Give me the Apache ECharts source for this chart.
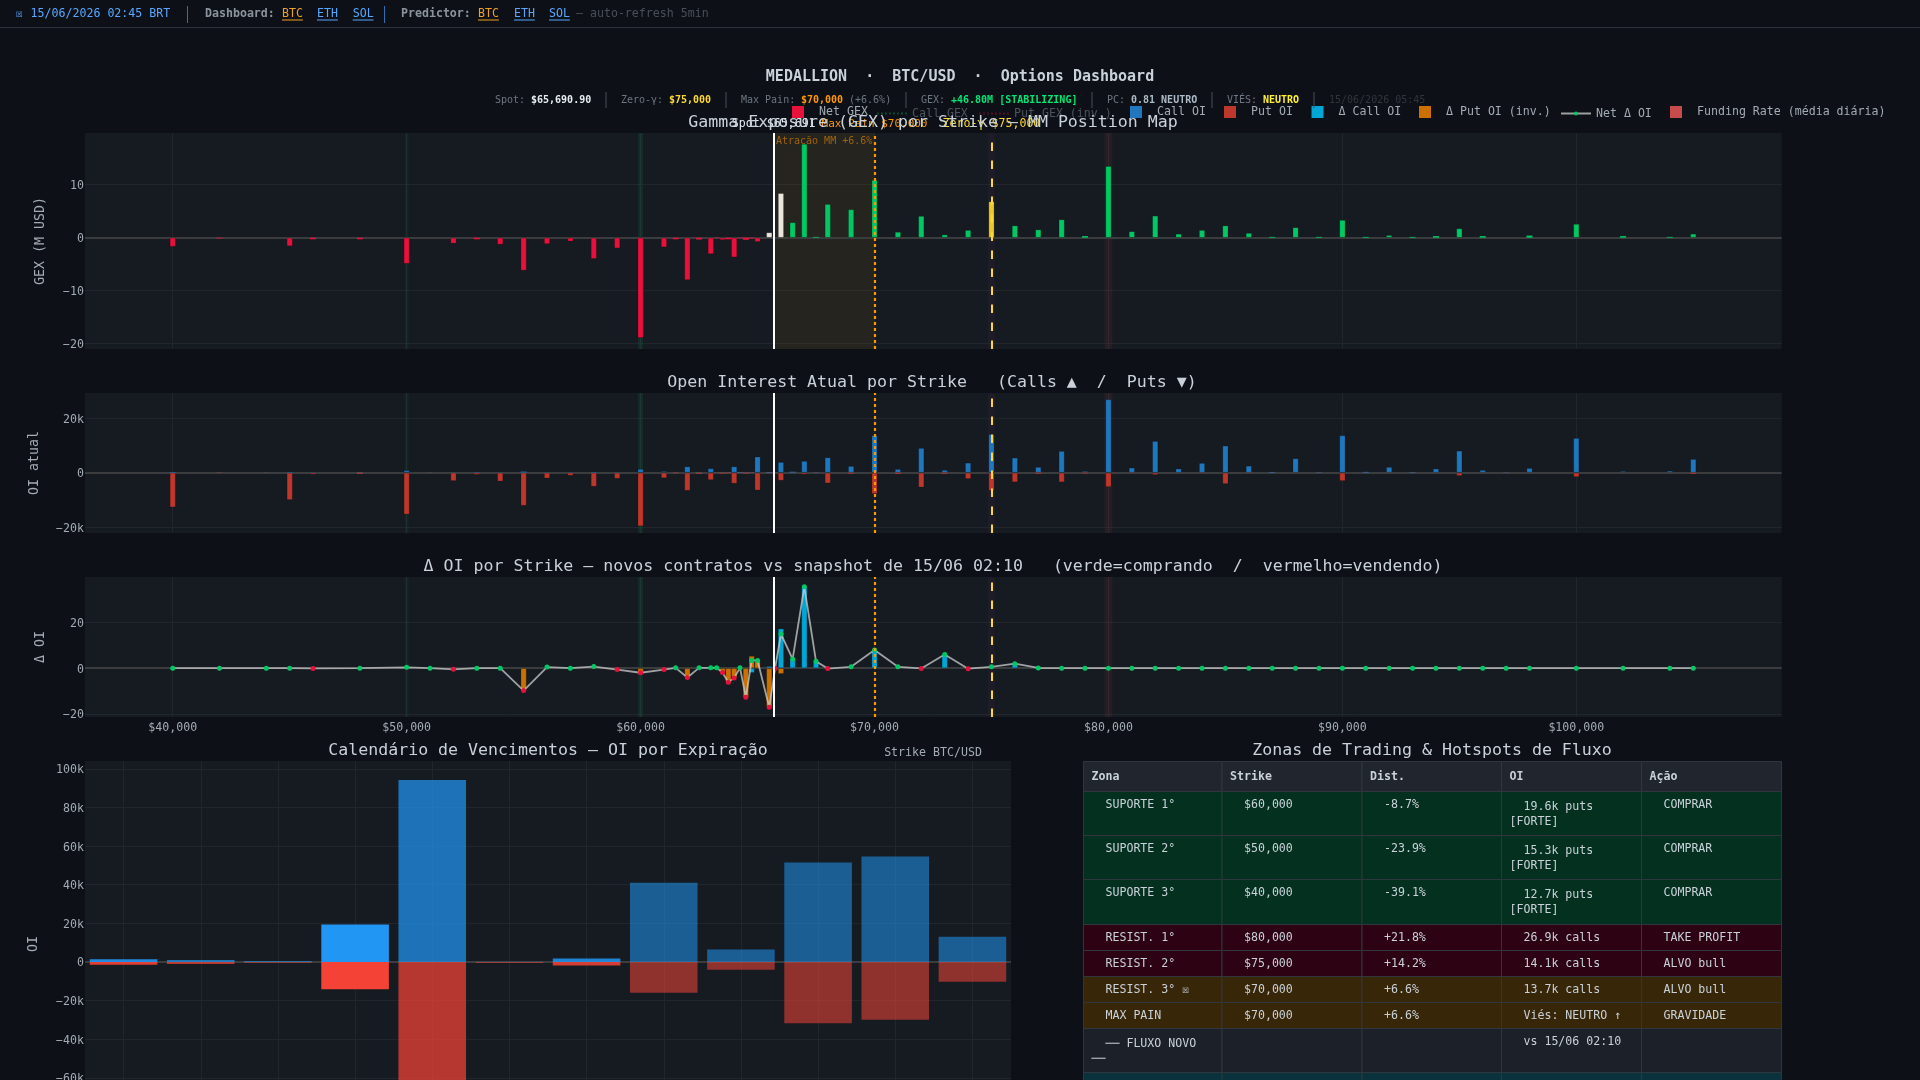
<!DOCTYPE html>
<html lang="pt-BR">
<head>
<meta charset="utf-8">
<title>MEDALLION · BTC/USD · Options Dashboard</title>
<script src="https://cdn.jsdelivr.net/npm/echarts@6/dist/echarts.min.js"></script>
<style>
  html, body { margin: 0; padding: 0; background: #0d1117; overflow: hidden; }
  #chart { width: 1920px; height: 1080px; }
</style>
</head>
<body>
<div id="chart"></div>
<script>
// ---- Strike ladder -------------------------------------------------------
const strikes = [
  40000,42000,44000,45000,46000,48000,50000,51000,52000,53000,
  54000,55000,56000,57000,58000,59000,60000,61000,61500,62000,
  62500,63000,63250,63500,63750,64000,64250,64500,64750,65000,
  65500,65750,66000,66500,67000,67500,68000,69000,70000,71000,
  72000,73000,74000,75000,76000,77000,78000,79000,80000,81000,
  82000,83000,84000,85000,86000,87000,88000,89000,90000,91000,
  92000,93000,94000,95000,96000,97000,98000,100000,102000,104000,
  105000
];
// Net gamma exposure, M USD
const netGex = [
  -1.7,-0.15,0,-1.6,-0.3,-0.3,-4.9,0,-1.1,-0.3,
  -1.3,-6.2,-1.2,-0.7,-4,-2,-18.9,-1.8,-0.3,-8,
  -0.35,-3.1,-0.1,-0.45,-0.3,-3.7,-0.1,-0.4,-0.15,-0.8,
  1,0,8.4,2.9,17.7,0.15,6.35,5.35,10.9,1.1,
  4.1,0.6,1.45,6.85,2.3,1.55,3.45,0.3,13.5,1.2,
  4.15,0.75,1.45,2.3,0.9,0.15,1.95,0.15,3.35,0.15,
  0.5,0.15,0.3,1.75,0.3,0,0.4,2.6,0.3,0.15,
  0.75
];
// Open interest per strike, thousands of contracts
const callOi = [
  0.25,0.05,0.05,0.2,0.1,0.15,0.9,0.05,0.1,0.15,
  0.1,0.4,0.1,0.1,0.2,0.1,1.35,0.6,0.05,2.3,
  0.1,1.6,0.05,0.1,0.1,2.3,0.25,0.1,0.1,5.9,
  0.25,0.05,3.9,0.35,4.3,0.1,5.6,2.45,13.7,1.35,
  9.05,1,3.65,14.1,5.5,2.1,7.95,0.6,26.9,1.85,
  11.6,1.5,3.55,9.9,2.55,0.25,5.25,0.15,13.7,0.3,
  2.1,0.2,1.5,8.05,1,0.1,1.7,12.7,0.6,0.7,
  5
];
const putOi = [
  12.7,0.1,0.05,10,0.7,0.4,15.3,0.05,3.05,0.75,
  3.2,12.1,2.1,1.1,5.1,2.2,19.6,2,0.2,6.6,
  0.35,2.7,0.1,0.3,0.2,4,0.1,0.3,0.1,6.5,
  0.1,0.05,2.9,0.05,0.7,0.05,3.9,0.35,7.8,0.4,
  5.4,0.35,2.3,6.6,3.5,0.35,3.5,0.25,5.25,0.1,
  0.85,0.05,0.1,4.15,0.1,0.05,0.05,0.05,3.05,0.05,
  0.05,0.05,0.05,1.2,0.05,0.05,0.05,1.6,0.05,0.05,
  0.4
];
// Change in open interest since the previous snapshot
const deltaCall = [
  0,0,0,0,0,0,0,0,0,0,
  0,0,0,0,0,0,0,0,0,0,
  0,0,0,0,0,0,0,0,-2.05,0,
  0.9,0,17.4,4,35.7,3,0,0,8,0,
  0,6,0,0,2,0,0,0,0,0,
  0,0,0,0,0,0,0,0,0,0,
  0,0,0,0,0,0,0,0,0,0,
  0
];
const deltaPutInv = [
  0,0,0,0,0,0,0,0,0,0,
  0,-9.8,0,0,0,-0.6,-2,-0.6,0,-4.1,
  0,0,0,-1.9,-6.15,-4.25,0,-12.75,5.4,3.4,
  -17.1,-0.1,-2.5,0,0,0,-0.15,0,0,0,
  0,0,0,0,0,0,0,0,0,0,
  0,0,0,0,0,0,0,0,0,0,
  0,0,0,0,0,0,0,0,0,0,
  0
];
const deltaNet = [
  0,0,0,0,-0.1,0,0.4,0,-0.5,0,
  0,-9.8,0.5,0,0.7,-0.6,-2,-0.6,0.15,-4.1,
  0.15,0.15,0.15,-1.9,-6.15,-4.25,0.15,-12.75,3.4,3.4,
  -17.1,-0.1,15,4,35.7,3,-0.15,0.6,8,0.6,
  -0.1,6,-0.2,0.6,2,0.1,0,0,0,0,
  0,0,0,0,0,0,0,0,0,0,
  0,0,0,0,0,0,0,0,0,0,
  0
];
// Key levels
const spotPrice = 65690.9;
const maxPain = 70000;
const zeroGamma = 75000;
const supportZones = [50000, 60000];
const resistanceZones = [75000, 80000];

// Open interest per expiry, thousands of contracts
const expiries = ['16JUN','17JUN','18JUN','19JUN','26JUN','03JUL','10JUL','31JUL','14AUG','28AUG','25SEP','30OCT'];
const expiryCalls = [1.4,1,0.5,19.4,94.3,0.15,1.8,41,6.4,51.5,54.6,13.1];
const expiryPuts = [-1.5,-1,-0.4,-14.2,-68,-0.5,-1.9,-15.9,-4,-31.8,-30,-10.2];
const expiryFade = [0.9,0.7,0.6,1,0.72,0.5,0.85,0.55,0.55,0.55,0.55,0.55];

// Axis ticks
const strikeTicks = [40000,50000,60000,70000,80000,90000,100000];
const gexTicks = [-20,-10,0,10];
const oiTicks = [-20,0,20];
const deltaTicks = [-20,0,20];
const calendarTicks = [-80,-60,-40,-20,0,20,40,60,80,100];

// Zone table
const BOX_GLYPH = '\u2612';
const tableHead = ['Zona','Strike','Dist.','OI','Ação'];
const tableRows = [
  ['  SUPORTE 1°','  $60,000','  -8.7%','  19.6k puts\n[FORTE]','  COMPRAR'],
  ['  SUPORTE 2°','  $50,000','  -23.9%','  15.3k puts\n[FORTE]','  COMPRAR'],
  ['  SUPORTE 3°','  $40,000','  -39.1%','  12.7k puts\n[FORTE]','  COMPRAR'],
  ['  RESIST. 1°','  $80,000','  +21.8%','  26.9k calls','  TAKE PROFIT'],
  ['  RESIST. 2°','  $75,000','  +14.2%','  14.1k calls','  ALVO bull'],
  ['  RESIST. 3° ' + BOX_GLYPH,'  $70,000','  +6.6%','  13.7k calls','  ALVO bull'],
  ['  MAX PAIN','  $70,000','  +6.6%','  Viés: NEUTRO ↑','  GRAVIDADE'],
  ['  ── FLUXO NOVO\n──','','','  vs 15/06 02:10','']
];

// ---- Look and layout -----------------------------------------------------
const FONT = '"DejaVu Sans Mono", monospace';
const C = {
  page:'#0d1117', plot:'#161b22', grid:'#21262d', zero:'#3a3c3e', text:'#c9d1d9', tick:'#a3abb4', dim:'#6e7681',
  green:'#00c864', red:'#e8113c', spot:'#ffffff', pain:'#ff9800', gamma:'#fdd835',
  call:'#1f77bd', put:'#bd372c', dCall:'#00a6d6', dPut:'#cc7000'
};
const PLOT_LEFT = 85, PLOT_WIDTH = 1696.6;
const gridBoxes = [
  { left:PLOT_LEFT, top:133, width:PLOT_WIDTH, height:216 },
  { left:PLOT_LEFT, top:393, width:PLOT_WIDTH, height:140 },
  { left:PLOT_LEFT, top:577, width:PLOT_WIDTH, height:140 },
  { left:PLOT_LEFT, top:761, width:926, height:366 }
];

const fmtK = v => (v < 0 ? '−' + (-v) : v) + (v === 0 ? '' : 'k');
const fmtN = v => (v < 0 ? '−' + (-v) : '' + v);

function xAxisFor(gridIndex, showLabels) {
  return {
    type:'value', gridIndex, min:36250, max:108776, scale:true,
    axisLine:{show:false},
    axisTick:{show:false, customValues:strikeTicks},
    splitLine:{show:true, lineStyle:{color:C.grid, width:1}},
    axisLabel:{
      show:showLabels, customValues:strikeTicks, color:C.tick, fontFamily:FONT, fontSize:11.6, margin:4,
      padding:[1,0,0,0],
      formatter:v => '$' + v.toLocaleString('en-US')
    }
  };
}
function yAxisFor(gridIndex, name, min, max, ticks, fmt, nameGap) {
  return {
    type:'value', gridIndex, min, max, name, nameLocation:'middle', nameRotate:90, nameGap,
    nameTextStyle:{color:C.tick, fontFamily:FONT, fontSize:13.3},
    axisLine:{show:false},
    axisTick:{show:false, customValues:ticks},
    splitLine:{show:true, lineStyle:{color:C.grid, width:1}},
    axisLabel:{
      customValues:ticks, color:C.tick, fontFamily:FONT, fontSize:11.6, margin:1,
      formatter:v => '{t|' + fmt(v) + '}',
      rich:{t:{color:C.tick, fontFamily:FONT, fontSize:11.6, padding:[3,0,0,0]}}
    }
  };
}

// Zero line, drawn underneath the marks of a panel
function zeroSeries(i) {
  return {
    type:'line', name:'zero' + i, xAxisIndex:i, yAxisIndex:i, data:[], silent:true,
    markLine:{ silent:true, symbol:'none', animation:false, z:1, label:{show:false},
      lineStyle:{color:C.zero, width:2, type:'solid'}, data:[{yAxis:0}] }
  };
}
// Highlighted strike bands, and the spot to max-pain attraction box on the GEX panel
function zoneAreas(withBox) {
  const band = (v, half, color) => [{xAxis:v - half, itemStyle:{color}}, {xAxis:v + half}];
  const data = [
    band(supportZones[0], 85, 'rgba(0,200,100,0.05)'),
    band(supportZones[1], 107, 'rgba(0,200,100,0.10)'),
    band(resistanceZones[0], 150, 'rgba(200,60,130,0.05)'),
    band(resistanceZones[1], 165, 'rgba(255,60,80,0.08)')
  ];
  if (withBox) data.push([
    {xAxis:spotPrice, itemStyle:{color:'rgba(255,152,0,0.07)'},
      label:{show:true, position:'insideTop', distance:3, formatter:'Atração MM +6.6%', color:'rgba(255,152,0,0.55)', fontFamily:FONT, fontSize:10}},
    {xAxis:maxPain}
  ]);
  return { silent:true, animation:false, z:1, label:{show:false}, data };
}
// Spot, max pain and zero-gamma verticals; the first panel also names them
function levelLines(named) {
  const lab = (text, color, size) => named
    ? {show:true, position:'end', distance:3, formatter:text, color, fontFamily:FONT, fontSize:size}
    : {show:false};
  return {
    silent:true, symbol:'none', animation:false, z:6,
    data:[
      {xAxis:spotPrice, lineStyle:{color:C.spot, width:2, type:'solid'}, label:lab('Spot $65,691', '#e6edf3', 11.6)},
      {xAxis:maxPain, lineStyle:{color:C.pain, width:2.2, type:[3,3]}, label:lab('Max Pain $70,000', C.pain, 11)},
      {xAxis:zeroGamma, lineStyle:{color:C.gamma, width:2, type:[8.5,9.5]}, label:lab('Zero-γ $75,000', C.gamma, 11.6)}
    ]
  };
}
function gexColor(strike, value) {
  if (strike === zeroGamma) return '#e8c92a';
  if (strike === 65500 || strike === 66000) return '#ebe6dd';
  return value < 0 ? C.red : C.green;
}
// Very short bars skip the outline, which would otherwise smear along the zero line
function barPoint(strike, value, color) {
  return {
    value:[strike, value],
    itemStyle:{color, borderColor:'rgba(0,0,0,0.22)', borderWidth:Math.abs(value) > 0.4 ? 0.8 : 0}
  };
}
function barSeries(name, i, arr, color) {
  return {
    type:'bar', name, xAxisIndex:i, yAxisIndex:i, barWidth:6, barGap:'-100%', silent:true,
    data:strikes.map((s, k) => barPoint(s, arr[k], color))
  };
}

const series = [
  zeroSeries(0), zeroSeries(1), zeroSeries(2), zeroSeries(3),
  Object.assign(barSeries('Net GEX', 0, netGex, C.red), {
    data:strikes.map((s, i) => barPoint(s, netGex[i], gexColor(s, netGex[i]))),
    markArea:zoneAreas(true), markLine:levelLines(true)
  }),
  {type:'line', name:'Call GEX', xAxisIndex:0, yAxisIndex:0, data:[], symbol:'none', lineStyle:{color:'rgba(0,200,100,0.3)', type:[2,2], width:1.5}},
  {type:'line', name:'Put GEX (inv.)', xAxisIndex:0, yAxisIndex:0, data:[], symbol:'none', lineStyle:{color:'rgba(232,17,60,0.3)', type:[2,2], width:1.5}},
  Object.assign(barSeries('Call OI', 1, callOi, C.call), {markArea:zoneAreas(false), markLine:levelLines(false)}),
  barSeries('Put OI', 1, putOi.map(v => -v), C.put),
  Object.assign(barSeries('Δ Call OI', 2, deltaCall, C.dCall), {markArea:zoneAreas(false), markLine:levelLines(false)}),
  barSeries('Δ Put OI (inv.)', 2, deltaPutInv, C.dPut),
  {
    type:'line', name:'Net Δ OI', xAxisIndex:2, yAxisIndex:2, z:4, silent:true,
    data:strikes.map((s, i) => ({value:[s, deltaNet[i]], itemStyle:{color:deltaNet[i] < 0 ? C.red : C.green}})),
    symbol:'circle', symbolSize:5, lineStyle:{color:'rgba(205,205,205,0.75)', width:1.8},
    itemStyle:{color:C.green}
  },
  {type:'bar', name:'Funding Rate (média diária)', xAxisIndex:3, yAxisIndex:3, data:[], itemStyle:{color:'#c94a4a'}},
  {
    type:'bar', name:'Vencimentos Calls', xAxisIndex:3, yAxisIndex:3, barWidth:67.6, barGap:'-100%', silent:true,
    data:expiryCalls.map((v, i) => ({value:v, itemStyle:{color:'#2196f3', opacity:expiryFade[i]}}))
  },
  {
    type:'bar', name:'Vencimentos Puts', xAxisIndex:3, yAxisIndex:3, barWidth:67.6, barGap:'-100%', silent:true,
    data:expiryPuts.map((v, i) => ({value:v, itemStyle:{color:'#f44336', opacity:expiryFade[i]}}))
  }
];

// Each legend entry is placed on its own along the header row
const legendItems = [
  ['Net GEX', 792, 'rect', C.tick, C.red],
  ['Call GEX', 876, 'dim', '#4d545c'],
  ['Put GEX (inv.)', 978, 'dim', '#4d545c'],
  ['Call OI', 1130, 'rect', C.tick, C.call],
  ['Put OI', 1224, 'rect', C.tick, C.put],
  ['Δ Call OI', 1311.5, 'rect', C.tick, C.dCall],
  ['Δ Put OI (inv.)', 1419, 'rect', C.tick, C.dPut],
  ['Net Δ OI', 1560, 'line', C.tick],
  ['Funding Rate (média diária)', 1670, 'rect', C.tick, '#c94a4a']
];
const legends = legendItems.map(([name, x, kind, textColor, swatch]) => {
  const isRect = kind === 'rect';
  let entry = {name};
  if (isRect) entry = {name, icon:'rect', itemStyle:{color:swatch}};
  if (kind === 'dim') entry = {name, itemStyle:{opacity:0}, lineStyle:{opacity:1}};
  return {
    left:x, top:isRect ? 106 : 107.5, orient:'horizontal', padding:0, selectedMode:false,
    itemWidth:isRect ? 12 : 30, itemHeight:isRect ? 12 : 5,
    data:[entry],
    textStyle:{color:textColor, fontFamily:FONT, fontSize:11.6, padding:[isRect ? 6 : 0,0,0,isRect ? 10 : 0]}
  };
});

// ---- Page furniture: header, titles and table ----------------------------
const gfx = [];
function txt(x, y, text, fill, size, opt) {
  opt = opt || {};
  gfx.push({ type:'text', x, y, z:50, silent:true, style:{
    text, fill, font:(opt.bold ? 'bold ' : '') + size + 'px ' + FONT,
    textAlign:opt.align || 'left', textVerticalAlign:'middle'
  }});
}
function hline(x1, y1, x2, y2, stroke, w) {
  gfx.push({ type:'line', z:50, silent:true, shape:{x1, y1, x2, y2}, style:{stroke, lineWidth:w || 1} });
}
function link(x, text, color) {
  txt(x, 14, text, color, 11.6);
  hline(x, 20, x + text.length * 6.96, 20, color, 1);
}

// Navigation strip
hline(0, 27.5, 1920, 27.5, '#2d333b');
txt(16, 14, BOX_GLYPH, '#58a6ff', 11.6);
txt(30.6, 14, '15/06/2026 02:45 BRT', '#58a6ff', 11.6);
hline(187.5, 6, 187.5, 23, '#2f6fb5');
txt(205, 14, 'Dashboard:', '#8b949e', 11.6, {bold:true});
link(282, 'BTC', '#f0a020'); link(317, 'ETH', '#58a6ff'); link(352.7, 'SOL', '#58a6ff');
hline(384.5, 6, 384.5, 23, '#2f6fb5');
txt(401, 14, 'Predictor:', '#8b949e', 11.6, {bold:true});
link(478, 'BTC', '#f0a020'); link(514, 'ETH', '#58a6ff'); link(549, 'SOL', '#58a6ff');
txt(576, 14, '— auto-refresh 5min', '#484f58', 11.6);

// Dashboard heading and stat line
txt(960, 77, 'MEDALLION  ·  BTC/USD  ·  Options Dashboard', C.text, 15, {bold:true, align:'center'});
const statGroups = [
  [['Spot: ','#6e7681'],['$65,690.90','#e6edf3',1]],
  [['Zero-γ: ','#6e7681'],['$75,000','#fdd835',1]],
  [['Max Pain: ','#6e7681'],['$70,000','#ff9800',1],[' (+6.6%)','#6e7681']],
  [['GEX: ','#6e7681'],['+46.80M [STABILIZING]','#00e676',1]],
  [['PC: ','#6e7681'],['0.81 NEUTRO','#adbac7',1]],
  [['VIÉS: ','#6e7681'],['NEUTRO','#ffee33',1]],
  [['15/06/2026 05:45','#30363d']]
];
let statX = 495;
statGroups.forEach((group, g) => {
  group.forEach(([text, color, bold]) => {
    txt(statX, 100, text, color, 10, {bold:!!bold});
    statX += text.length * 6;
  });
  if (g < statGroups.length - 1) { statX += 15; hline(statX, 92, statX, 108, '#484f58'); statX += 15; }
});

// Panel titles
txt(933, 123, 'Gamma Exposure (GEX) por Strike — MM Position Map', C.text, 16.6, {align:'center'});
txt(932, 382.7, 'Open Interest Atual por Strike   (Calls ▲  /  Puts ▼)', C.text, 16.6, {align:'center'});
txt(933, 566.5, 'Δ OI por Strike — novos contratos vs snapshot de 15/06 02:10   (verde=comprando  /  vermelho=vendendo)', C.text, 16.6, {align:'center'});
txt(548, 751, 'Calendário de Vencimentos — OI por Expiração', C.text, 16.6, {align:'center'});
txt(1432, 751, 'Zonas de Trading & Hotspots de Fluxo', C.text, 16.6, {align:'center'});
txt(933, 752.5, 'Strike BTC/USD', C.tick, 11.6, {align:'center'});

// Zone table, one rect per cell and one text per wrapped line
const colX = [1083.5, 1222, 1362, 1501.5, 1641.5, 1781.5];
const rowY = [761.5, 791.5, 835.5, 879.5, 924.5, 950.5, 976.5, 1002.5, 1028.5, 1072.5, 1116.5];
const rowFill = ['#21262e','#04311f','#04311f','#04311f','#2d0314','#2d0314','#382608','#382608','#1c2129','#0a323c'];
function cell(c, r, fill) {
  gfx.push({ type:'rect', z:49, silent:true,
    shape:{x:colX[c], y:rowY[r], width:colX[c + 1] - colX[c], height:rowY[r + 1] - rowY[r]},
    style:{fill, stroke:'#30363d', lineWidth:1} });
}
tableHead.forEach((h, c) => {
  cell(c, 0, rowFill[0]);
  txt(colX[c] + 8, 777, h, C.text, 11.6, {bold:true});
});
tableRows.forEach((row, r) => {
  row.forEach((value, c) => {
    cell(c, r + 1, rowFill[r + 1]);
    const lines = value.split('\n');
    const top = rowY[r + 1];
    lines.forEach((line, l) => {
      const y = lines.length > 1 ? top + 15.6 + l * 14.6 : top + 13;
      txt(colX[c] + 8, y, line, C.text, 11.6);
    });
  });
});
for (let c = 0; c < 5; c++) cell(c, 9, rowFill[9]);

const option = {
  backgroundColor:C.page,
  animation:false,
  textStyle:{fontFamily:FONT},
  grid:gridBoxes.map(g => Object.assign({backgroundColor:C.plot, show:true, borderWidth:0, outerBoundsMode:'none'}, g)),
  legend:legends,
  xAxis:[
    xAxisFor(0, false), xAxisFor(1, false), xAxisFor(2, true),
    {
      type:'category', gridIndex:3, data:expiries,
      axisLine:{show:false}, axisLabel:{show:false},
      axisTick:{show:false, alignWithLabel:true},
      splitLine:{show:true, alignWithLabel:true, lineStyle:{color:C.grid, width:1}}
    }
  ],
  yAxis:[
    yAxisFor(0, 'GEX (M USD)', -21, 19.75, gexTicks, fmtN, 38),
    yAxisFor(1, 'OI atual', -22.1, 29.2, oiTicks, fmtK, 44),
    yAxisFor(2, 'Δ OI', -21.4, 40, deltaTicks, fmtN, 38),
    yAxisFor(3, 'OI', -85.5, 104.1, calendarTicks, fmtK, 45)
  ],
  series,
  graphic:{elements:gfx}
};
echarts.init(document.getElementById('chart'), null, {renderer:'canvas'}).setOption(option);
</script>
</body>
</html>
